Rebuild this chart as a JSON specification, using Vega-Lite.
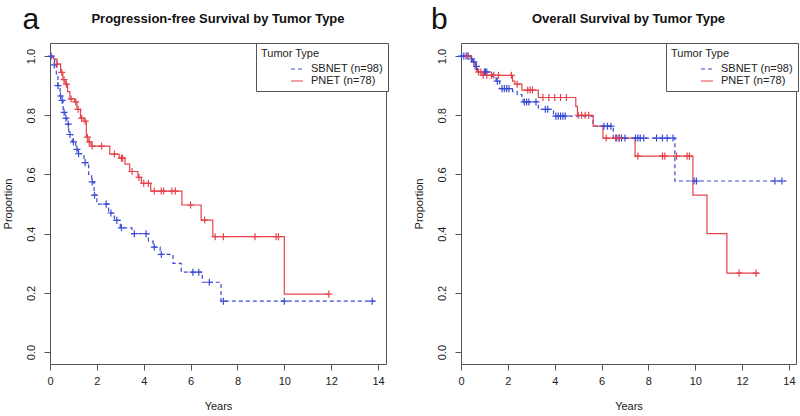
{
  "$schema": "https://vega.github.io/schema/vega-lite/v6.json",
  "padding": {"left": 1, "top": 4, "right": 4, "bottom": 3},
  "background": "white",
  "datasets": {
    "km": [
      {"panel": "a", "group": "SBNET (n=98)", "kind": "step", "t": 0, "s": 1.0},
      {"panel": "a", "group": "SBNET (n=98)", "kind": "step", "t": 0.1, "s": 0.99},
      {"panel": "a", "group": "SBNET (n=98)", "kind": "step", "t": 0.2, "s": 0.97},
      {"panel": "a", "group": "SBNET (n=98)", "kind": "step", "t": 0.27, "s": 0.94},
      {"panel": "a", "group": "SBNET (n=98)", "kind": "step", "t": 0.34, "s": 0.9},
      {"panel": "a", "group": "SBNET (n=98)", "kind": "step", "t": 0.43, "s": 0.865},
      {"panel": "a", "group": "SBNET (n=98)", "kind": "step", "t": 0.5, "s": 0.85},
      {"panel": "a", "group": "SBNET (n=98)", "kind": "step", "t": 0.56, "s": 0.81},
      {"panel": "a", "group": "SBNET (n=98)", "kind": "step", "t": 0.64, "s": 0.79},
      {"panel": "a", "group": "SBNET (n=98)", "kind": "step", "t": 0.72, "s": 0.77},
      {"panel": "a", "group": "SBNET (n=98)", "kind": "step", "t": 0.8, "s": 0.735},
      {"panel": "a", "group": "SBNET (n=98)", "kind": "step", "t": 0.95, "s": 0.71},
      {"panel": "a", "group": "SBNET (n=98)", "kind": "step", "t": 1.1, "s": 0.685},
      {"panel": "a", "group": "SBNET (n=98)", "kind": "step", "t": 1.2, "s": 0.67},
      {"panel": "a", "group": "SBNET (n=98)", "kind": "step", "t": 1.45, "s": 0.64},
      {"panel": "a", "group": "SBNET (n=98)", "kind": "step", "t": 1.65, "s": 0.6},
      {"panel": "a", "group": "SBNET (n=98)", "kind": "step", "t": 1.78, "s": 0.575},
      {"panel": "a", "group": "SBNET (n=98)", "kind": "step", "t": 1.88, "s": 0.53},
      {"panel": "a", "group": "SBNET (n=98)", "kind": "step", "t": 2.0, "s": 0.5},
      {"panel": "a", "group": "SBNET (n=98)", "kind": "step", "t": 2.5, "s": 0.47},
      {"panel": "a", "group": "SBNET (n=98)", "kind": "step", "t": 2.75, "s": 0.445},
      {"panel": "a", "group": "SBNET (n=98)", "kind": "step", "t": 3.0, "s": 0.42},
      {"panel": "a", "group": "SBNET (n=98)", "kind": "step", "t": 3.5, "s": 0.4},
      {"panel": "a", "group": "SBNET (n=98)", "kind": "step", "t": 4.2, "s": 0.375},
      {"panel": "a", "group": "SBNET (n=98)", "kind": "step", "t": 4.4, "s": 0.355},
      {"panel": "a", "group": "SBNET (n=98)", "kind": "step", "t": 4.7, "s": 0.33},
      {"panel": "a", "group": "SBNET (n=98)", "kind": "step", "t": 5.25, "s": 0.3},
      {"panel": "a", "group": "SBNET (n=98)", "kind": "step", "t": 5.6, "s": 0.27},
      {"panel": "a", "group": "SBNET (n=98)", "kind": "step", "t": 6.5, "s": 0.236},
      {"panel": "a", "group": "SBNET (n=98)", "kind": "step", "t": 7.3, "s": 0.172},
      {"panel": "a", "group": "SBNET (n=98)", "kind": "step", "t": 13.85, "s": 0.172},
      {"panel": "a", "group": "SBNET (n=98)", "kind": "censor", "t": 0.05, "s": 1.0},
      {"panel": "a", "group": "SBNET (n=98)", "kind": "censor", "t": 0.18, "s": 0.97},
      {"panel": "a", "group": "SBNET (n=98)", "kind": "censor", "t": 0.34, "s": 0.9},
      {"panel": "a", "group": "SBNET (n=98)", "kind": "censor", "t": 0.45, "s": 0.865},
      {"panel": "a", "group": "SBNET (n=98)", "kind": "censor", "t": 0.52, "s": 0.85},
      {"panel": "a", "group": "SBNET (n=98)", "kind": "censor", "t": 0.6, "s": 0.81},
      {"panel": "a", "group": "SBNET (n=98)", "kind": "censor", "t": 0.68, "s": 0.79},
      {"panel": "a", "group": "SBNET (n=98)", "kind": "censor", "t": 0.78, "s": 0.77},
      {"panel": "a", "group": "SBNET (n=98)", "kind": "censor", "t": 0.85, "s": 0.735},
      {"panel": "a", "group": "SBNET (n=98)", "kind": "censor", "t": 1.0, "s": 0.71},
      {"panel": "a", "group": "SBNET (n=98)", "kind": "censor", "t": 1.15, "s": 0.685},
      {"panel": "a", "group": "SBNET (n=98)", "kind": "censor", "t": 1.22, "s": 0.67},
      {"panel": "a", "group": "SBNET (n=98)", "kind": "censor", "t": 1.5, "s": 0.64},
      {"panel": "a", "group": "SBNET (n=98)", "kind": "censor", "t": 1.8, "s": 0.575},
      {"panel": "a", "group": "SBNET (n=98)", "kind": "censor", "t": 1.9, "s": 0.53},
      {"panel": "a", "group": "SBNET (n=98)", "kind": "censor", "t": 2.4, "s": 0.5},
      {"panel": "a", "group": "SBNET (n=98)", "kind": "censor", "t": 2.6, "s": 0.47},
      {"panel": "a", "group": "SBNET (n=98)", "kind": "censor", "t": 2.85, "s": 0.445},
      {"panel": "a", "group": "SBNET (n=98)", "kind": "censor", "t": 3.05, "s": 0.42},
      {"panel": "a", "group": "SBNET (n=98)", "kind": "censor", "t": 3.6, "s": 0.4},
      {"panel": "a", "group": "SBNET (n=98)", "kind": "censor", "t": 4.1, "s": 0.4},
      {"panel": "a", "group": "SBNET (n=98)", "kind": "censor", "t": 4.45, "s": 0.355},
      {"panel": "a", "group": "SBNET (n=98)", "kind": "censor", "t": 4.75, "s": 0.33},
      {"panel": "a", "group": "SBNET (n=98)", "kind": "censor", "t": 6.1, "s": 0.27},
      {"panel": "a", "group": "SBNET (n=98)", "kind": "censor", "t": 6.35, "s": 0.27},
      {"panel": "a", "group": "SBNET (n=98)", "kind": "censor", "t": 6.8, "s": 0.236},
      {"panel": "a", "group": "SBNET (n=98)", "kind": "censor", "t": 7.4, "s": 0.172},
      {"panel": "a", "group": "SBNET (n=98)", "kind": "censor", "t": 10.0, "s": 0.172},
      {"panel": "a", "group": "SBNET (n=98)", "kind": "censor", "t": 13.75, "s": 0.172},

      {"panel": "a", "group": "PNET (n=78)", "kind": "step", "t": 0, "s": 1.0},
      {"panel": "a", "group": "PNET (n=78)", "kind": "step", "t": 0.15, "s": 0.99},
      {"panel": "a", "group": "PNET (n=78)", "kind": "step", "t": 0.3, "s": 0.973},
      {"panel": "a", "group": "PNET (n=78)", "kind": "step", "t": 0.45, "s": 0.945},
      {"panel": "a", "group": "PNET (n=78)", "kind": "step", "t": 0.55, "s": 0.92},
      {"panel": "a", "group": "PNET (n=78)", "kind": "step", "t": 0.65, "s": 0.905},
      {"panel": "a", "group": "PNET (n=78)", "kind": "step", "t": 0.75, "s": 0.88},
      {"panel": "a", "group": "PNET (n=78)", "kind": "step", "t": 0.85, "s": 0.855},
      {"panel": "a", "group": "PNET (n=78)", "kind": "step", "t": 1.05, "s": 0.845},
      {"panel": "a", "group": "PNET (n=78)", "kind": "step", "t": 1.15, "s": 0.82},
      {"panel": "a", "group": "PNET (n=78)", "kind": "step", "t": 1.3, "s": 0.79},
      {"panel": "a", "group": "PNET (n=78)", "kind": "step", "t": 1.45, "s": 0.78},
      {"panel": "a", "group": "PNET (n=78)", "kind": "step", "t": 1.55, "s": 0.726},
      {"panel": "a", "group": "PNET (n=78)", "kind": "step", "t": 1.62, "s": 0.71},
      {"panel": "a", "group": "PNET (n=78)", "kind": "step", "t": 1.75, "s": 0.696},
      {"panel": "a", "group": "PNET (n=78)", "kind": "step", "t": 2.55, "s": 0.669},
      {"panel": "a", "group": "PNET (n=78)", "kind": "step", "t": 2.95, "s": 0.655},
      {"panel": "a", "group": "PNET (n=78)", "kind": "step", "t": 3.2, "s": 0.635},
      {"panel": "a", "group": "PNET (n=78)", "kind": "step", "t": 3.4, "s": 0.61},
      {"panel": "a", "group": "PNET (n=78)", "kind": "step", "t": 3.75, "s": 0.59},
      {"panel": "a", "group": "PNET (n=78)", "kind": "step", "t": 3.9, "s": 0.57},
      {"panel": "a", "group": "PNET (n=78)", "kind": "step", "t": 4.3, "s": 0.544},
      {"panel": "a", "group": "PNET (n=78)", "kind": "step", "t": 5.63, "s": 0.497},
      {"panel": "a", "group": "PNET (n=78)", "kind": "step", "t": 6.45, "s": 0.446},
      {"panel": "a", "group": "PNET (n=78)", "kind": "step", "t": 6.95, "s": 0.39},
      {"panel": "a", "group": "PNET (n=78)", "kind": "step", "t": 10.0, "s": 0.196},
      {"panel": "a", "group": "PNET (n=78)", "kind": "step", "t": 11.9, "s": 0.196},
      {"panel": "a", "group": "PNET (n=78)", "kind": "censor", "t": 0.3, "s": 0.973},
      {"panel": "a", "group": "PNET (n=78)", "kind": "censor", "t": 0.5, "s": 0.945},
      {"panel": "a", "group": "PNET (n=78)", "kind": "censor", "t": 0.6, "s": 0.92},
      {"panel": "a", "group": "PNET (n=78)", "kind": "censor", "t": 0.7, "s": 0.905},
      {"panel": "a", "group": "PNET (n=78)", "kind": "censor", "t": 0.9, "s": 0.855},
      {"panel": "a", "group": "PNET (n=78)", "kind": "censor", "t": 1.1, "s": 0.845},
      {"panel": "a", "group": "PNET (n=78)", "kind": "censor", "t": 1.2, "s": 0.82},
      {"panel": "a", "group": "PNET (n=78)", "kind": "censor", "t": 1.35, "s": 0.79},
      {"panel": "a", "group": "PNET (n=78)", "kind": "censor", "t": 1.5, "s": 0.78},
      {"panel": "a", "group": "PNET (n=78)", "kind": "censor", "t": 1.6, "s": 0.726},
      {"panel": "a", "group": "PNET (n=78)", "kind": "censor", "t": 1.68, "s": 0.71},
      {"panel": "a", "group": "PNET (n=78)", "kind": "censor", "t": 1.8, "s": 0.696},
      {"panel": "a", "group": "PNET (n=78)", "kind": "censor", "t": 2.2, "s": 0.696},
      {"panel": "a", "group": "PNET (n=78)", "kind": "censor", "t": 2.75, "s": 0.669},
      {"panel": "a", "group": "PNET (n=78)", "kind": "censor", "t": 3.05, "s": 0.655},
      {"panel": "a", "group": "PNET (n=78)", "kind": "censor", "t": 3.1, "s": 0.655},
      {"panel": "a", "group": "PNET (n=78)", "kind": "censor", "t": 3.5, "s": 0.61},
      {"panel": "a", "group": "PNET (n=78)", "kind": "censor", "t": 3.8, "s": 0.59},
      {"panel": "a", "group": "PNET (n=78)", "kind": "censor", "t": 4.0, "s": 0.57},
      {"panel": "a", "group": "PNET (n=78)", "kind": "censor", "t": 4.2, "s": 0.57},
      {"panel": "a", "group": "PNET (n=78)", "kind": "censor", "t": 4.45, "s": 0.544},
      {"panel": "a", "group": "PNET (n=78)", "kind": "censor", "t": 4.75, "s": 0.544},
      {"panel": "a", "group": "PNET (n=78)", "kind": "censor", "t": 4.85, "s": 0.544},
      {"panel": "a", "group": "PNET (n=78)", "kind": "censor", "t": 5.2, "s": 0.544},
      {"panel": "a", "group": "PNET (n=78)", "kind": "censor", "t": 5.35, "s": 0.544},
      {"panel": "a", "group": "PNET (n=78)", "kind": "censor", "t": 6.0, "s": 0.497},
      {"panel": "a", "group": "PNET (n=78)", "kind": "censor", "t": 6.6, "s": 0.446},
      {"panel": "a", "group": "PNET (n=78)", "kind": "censor", "t": 7.05, "s": 0.39},
      {"panel": "a", "group": "PNET (n=78)", "kind": "censor", "t": 7.4, "s": 0.39},
      {"panel": "a", "group": "PNET (n=78)", "kind": "censor", "t": 8.75, "s": 0.39},
      {"panel": "a", "group": "PNET (n=78)", "kind": "censor", "t": 9.65, "s": 0.39},
      {"panel": "a", "group": "PNET (n=78)", "kind": "censor", "t": 9.75, "s": 0.39},
      {"panel": "a", "group": "PNET (n=78)", "kind": "censor", "t": 11.9, "s": 0.196},

      {"panel": "b", "group": "SBNET (n=98)", "kind": "step", "t": 0, "s": 1.0},
      {"panel": "b", "group": "SBNET (n=98)", "kind": "step", "t": 0.4, "s": 0.99},
      {"panel": "b", "group": "SBNET (n=98)", "kind": "step", "t": 0.5, "s": 0.98},
      {"panel": "b", "group": "SBNET (n=98)", "kind": "step", "t": 0.62, "s": 0.965},
      {"panel": "b", "group": "SBNET (n=98)", "kind": "step", "t": 0.7, "s": 0.946},
      {"panel": "b", "group": "SBNET (n=98)", "kind": "step", "t": 1.35, "s": 0.93},
      {"panel": "b", "group": "SBNET (n=98)", "kind": "step", "t": 1.5, "s": 0.915},
      {"panel": "b", "group": "SBNET (n=98)", "kind": "step", "t": 1.65, "s": 0.89},
      {"panel": "b", "group": "SBNET (n=98)", "kind": "step", "t": 2.2, "s": 0.88},
      {"panel": "b", "group": "SBNET (n=98)", "kind": "step", "t": 2.4, "s": 0.87},
      {"panel": "b", "group": "SBNET (n=98)", "kind": "step", "t": 2.6, "s": 0.86},
      {"panel": "b", "group": "SBNET (n=98)", "kind": "step", "t": 2.65, "s": 0.845},
      {"panel": "b", "group": "SBNET (n=98)", "kind": "step", "t": 3.3, "s": 0.82},
      {"panel": "b", "group": "SBNET (n=98)", "kind": "step", "t": 3.95, "s": 0.797},
      {"panel": "b", "group": "SBNET (n=98)", "kind": "step", "t": 5.64, "s": 0.763},
      {"panel": "b", "group": "SBNET (n=98)", "kind": "step", "t": 6.5, "s": 0.723},
      {"panel": "b", "group": "SBNET (n=98)", "kind": "step", "t": 9.13, "s": 0.578},
      {"panel": "b", "group": "SBNET (n=98)", "kind": "step", "t": 13.9, "s": 0.578},
      {"panel": "b", "group": "SBNET (n=98)", "kind": "censor", "t": 0.02, "s": 1.0},
      {"panel": "b", "group": "SBNET (n=98)", "kind": "censor", "t": 0.12, "s": 1.0},
      {"panel": "b", "group": "SBNET (n=98)", "kind": "censor", "t": 0.22, "s": 1.0},
      {"panel": "b", "group": "SBNET (n=98)", "kind": "censor", "t": 0.3, "s": 1.0},
      {"panel": "b", "group": "SBNET (n=98)", "kind": "censor", "t": 0.45, "s": 0.99},
      {"panel": "b", "group": "SBNET (n=98)", "kind": "censor", "t": 0.55, "s": 0.98},
      {"panel": "b", "group": "SBNET (n=98)", "kind": "censor", "t": 0.66, "s": 0.965},
      {"panel": "b", "group": "SBNET (n=98)", "kind": "censor", "t": 1.0, "s": 0.946},
      {"panel": "b", "group": "SBNET (n=98)", "kind": "censor", "t": 1.05, "s": 0.946},
      {"panel": "b", "group": "SBNET (n=98)", "kind": "censor", "t": 1.1, "s": 0.946},
      {"panel": "b", "group": "SBNET (n=98)", "kind": "censor", "t": 1.55, "s": 0.915},
      {"panel": "b", "group": "SBNET (n=98)", "kind": "censor", "t": 1.75, "s": 0.89},
      {"panel": "b", "group": "SBNET (n=98)", "kind": "censor", "t": 1.85, "s": 0.89},
      {"panel": "b", "group": "SBNET (n=98)", "kind": "censor", "t": 1.95, "s": 0.89},
      {"panel": "b", "group": "SBNET (n=98)", "kind": "censor", "t": 2.05, "s": 0.89},
      {"panel": "b", "group": "SBNET (n=98)", "kind": "censor", "t": 2.7, "s": 0.845},
      {"panel": "b", "group": "SBNET (n=98)", "kind": "censor", "t": 2.8, "s": 0.845},
      {"panel": "b", "group": "SBNET (n=98)", "kind": "censor", "t": 2.9, "s": 0.845},
      {"panel": "b", "group": "SBNET (n=98)", "kind": "censor", "t": 3.2, "s": 0.845},
      {"panel": "b", "group": "SBNET (n=98)", "kind": "censor", "t": 3.6, "s": 0.82},
      {"panel": "b", "group": "SBNET (n=98)", "kind": "censor", "t": 3.7, "s": 0.82},
      {"panel": "b", "group": "SBNET (n=98)", "kind": "censor", "t": 4.05, "s": 0.797},
      {"panel": "b", "group": "SBNET (n=98)", "kind": "censor", "t": 4.15, "s": 0.797},
      {"panel": "b", "group": "SBNET (n=98)", "kind": "censor", "t": 4.25, "s": 0.797},
      {"panel": "b", "group": "SBNET (n=98)", "kind": "censor", "t": 4.35, "s": 0.797},
      {"panel": "b", "group": "SBNET (n=98)", "kind": "censor", "t": 4.45, "s": 0.797},
      {"panel": "b", "group": "SBNET (n=98)", "kind": "censor", "t": 6.1, "s": 0.763},
      {"panel": "b", "group": "SBNET (n=98)", "kind": "censor", "t": 6.25, "s": 0.763},
      {"panel": "b", "group": "SBNET (n=98)", "kind": "censor", "t": 6.4, "s": 0.763},
      {"panel": "b", "group": "SBNET (n=98)", "kind": "censor", "t": 6.65, "s": 0.723},
      {"panel": "b", "group": "SBNET (n=98)", "kind": "censor", "t": 6.75, "s": 0.723},
      {"panel": "b", "group": "SBNET (n=98)", "kind": "censor", "t": 6.85, "s": 0.723},
      {"panel": "b", "group": "SBNET (n=98)", "kind": "censor", "t": 7.0, "s": 0.723},
      {"panel": "b", "group": "SBNET (n=98)", "kind": "censor", "t": 7.45, "s": 0.723},
      {"panel": "b", "group": "SBNET (n=98)", "kind": "censor", "t": 7.55, "s": 0.723},
      {"panel": "b", "group": "SBNET (n=98)", "kind": "censor", "t": 7.65, "s": 0.723},
      {"panel": "b", "group": "SBNET (n=98)", "kind": "censor", "t": 7.8, "s": 0.723},
      {"panel": "b", "group": "SBNET (n=98)", "kind": "censor", "t": 8.35, "s": 0.723},
      {"panel": "b", "group": "SBNET (n=98)", "kind": "censor", "t": 8.6, "s": 0.723},
      {"panel": "b", "group": "SBNET (n=98)", "kind": "censor", "t": 8.8, "s": 0.723},
      {"panel": "b", "group": "SBNET (n=98)", "kind": "censor", "t": 9.05, "s": 0.723},
      {"panel": "b", "group": "SBNET (n=98)", "kind": "censor", "t": 9.95, "s": 0.578},
      {"panel": "b", "group": "SBNET (n=98)", "kind": "censor", "t": 10.05, "s": 0.578},
      {"panel": "b", "group": "SBNET (n=98)", "kind": "censor", "t": 13.4, "s": 0.578},
      {"panel": "b", "group": "SBNET (n=98)", "kind": "censor", "t": 13.7, "s": 0.578},

      {"panel": "b", "group": "PNET (n=78)", "kind": "step", "t": 0, "s": 1.0},
      {"panel": "b", "group": "PNET (n=78)", "kind": "step", "t": 0.45, "s": 0.99},
      {"panel": "b", "group": "PNET (n=78)", "kind": "step", "t": 0.52, "s": 0.98},
      {"panel": "b", "group": "PNET (n=78)", "kind": "step", "t": 0.6, "s": 0.956},
      {"panel": "b", "group": "PNET (n=78)", "kind": "step", "t": 0.68, "s": 0.946},
      {"panel": "b", "group": "PNET (n=78)", "kind": "step", "t": 0.9, "s": 0.935},
      {"panel": "b", "group": "PNET (n=78)", "kind": "step", "t": 2.2, "s": 0.915},
      {"panel": "b", "group": "PNET (n=78)", "kind": "step", "t": 2.3, "s": 0.905},
      {"panel": "b", "group": "PNET (n=78)", "kind": "step", "t": 2.6, "s": 0.885},
      {"panel": "b", "group": "PNET (n=78)", "kind": "step", "t": 3.3, "s": 0.86},
      {"panel": "b", "group": "PNET (n=78)", "kind": "step", "t": 4.9, "s": 0.83},
      {"panel": "b", "group": "PNET (n=78)", "kind": "step", "t": 4.97, "s": 0.8},
      {"panel": "b", "group": "PNET (n=78)", "kind": "step", "t": 5.64, "s": 0.763},
      {"panel": "b", "group": "PNET (n=78)", "kind": "step", "t": 6.06, "s": 0.723},
      {"panel": "b", "group": "PNET (n=78)", "kind": "step", "t": 7.43, "s": 0.662},
      {"panel": "b", "group": "PNET (n=78)", "kind": "step", "t": 9.9, "s": 0.53},
      {"panel": "b", "group": "PNET (n=78)", "kind": "step", "t": 10.5, "s": 0.4},
      {"panel": "b", "group": "PNET (n=78)", "kind": "step", "t": 11.35, "s": 0.267},
      {"panel": "b", "group": "PNET (n=78)", "kind": "step", "t": 12.7, "s": 0.267},
      {"panel": "b", "group": "PNET (n=78)", "kind": "censor", "t": 0.3, "s": 1.0},
      {"panel": "b", "group": "PNET (n=78)", "kind": "censor", "t": 0.75, "s": 0.946},
      {"panel": "b", "group": "PNET (n=78)", "kind": "censor", "t": 0.85, "s": 0.946},
      {"panel": "b", "group": "PNET (n=78)", "kind": "censor", "t": 0.95, "s": 0.935},
      {"panel": "b", "group": "PNET (n=78)", "kind": "censor", "t": 1.1, "s": 0.935},
      {"panel": "b", "group": "PNET (n=78)", "kind": "censor", "t": 1.3, "s": 0.935},
      {"panel": "b", "group": "PNET (n=78)", "kind": "censor", "t": 1.4, "s": 0.935},
      {"panel": "b", "group": "PNET (n=78)", "kind": "censor", "t": 1.6, "s": 0.935},
      {"panel": "b", "group": "PNET (n=78)", "kind": "censor", "t": 2.15, "s": 0.935},
      {"panel": "b", "group": "PNET (n=78)", "kind": "censor", "t": 2.4, "s": 0.905},
      {"panel": "b", "group": "PNET (n=78)", "kind": "censor", "t": 2.85, "s": 0.885},
      {"panel": "b", "group": "PNET (n=78)", "kind": "censor", "t": 2.95, "s": 0.885},
      {"panel": "b", "group": "PNET (n=78)", "kind": "censor", "t": 3.05, "s": 0.885},
      {"panel": "b", "group": "PNET (n=78)", "kind": "censor", "t": 3.5, "s": 0.86},
      {"panel": "b", "group": "PNET (n=78)", "kind": "censor", "t": 3.75, "s": 0.86},
      {"panel": "b", "group": "PNET (n=78)", "kind": "censor", "t": 4.0, "s": 0.86},
      {"panel": "b", "group": "PNET (n=78)", "kind": "censor", "t": 4.25, "s": 0.86},
      {"panel": "b", "group": "PNET (n=78)", "kind": "censor", "t": 4.5, "s": 0.86},
      {"panel": "b", "group": "PNET (n=78)", "kind": "censor", "t": 5.0, "s": 0.8},
      {"panel": "b", "group": "PNET (n=78)", "kind": "censor", "t": 5.15, "s": 0.8},
      {"panel": "b", "group": "PNET (n=78)", "kind": "censor", "t": 5.3, "s": 0.8},
      {"panel": "b", "group": "PNET (n=78)", "kind": "censor", "t": 5.45, "s": 0.8},
      {"panel": "b", "group": "PNET (n=78)", "kind": "censor", "t": 6.2, "s": 0.723},
      {"panel": "b", "group": "PNET (n=78)", "kind": "censor", "t": 6.6, "s": 0.723},
      {"panel": "b", "group": "PNET (n=78)", "kind": "censor", "t": 6.75, "s": 0.723},
      {"panel": "b", "group": "PNET (n=78)", "kind": "censor", "t": 7.55, "s": 0.662},
      {"panel": "b", "group": "PNET (n=78)", "kind": "censor", "t": 8.6, "s": 0.662},
      {"panel": "b", "group": "PNET (n=78)", "kind": "censor", "t": 8.7, "s": 0.662},
      {"panel": "b", "group": "PNET (n=78)", "kind": "censor", "t": 9.2, "s": 0.662},
      {"panel": "b", "group": "PNET (n=78)", "kind": "censor", "t": 9.65, "s": 0.662},
      {"panel": "b", "group": "PNET (n=78)", "kind": "censor", "t": 9.75, "s": 0.662},
      {"panel": "b", "group": "PNET (n=78)", "kind": "censor", "t": 11.87, "s": 0.267},
      {"panel": "b", "group": "PNET (n=78)", "kind": "censor", "t": 12.6, "s": 0.267}
    ]
  },
  "hconcat": [
    {
      "width": 336,
      "height": 321,
      "layer": [
        {
          "data": {"name": "km"},
          "transform": [{"filter": "datum.panel === 'a' && datum.kind === 'step'"}],
          "mark": {"type": "line", "interpolate": "step-after", "strokeWidth": 1.2},
          "encoding": {
            "x": {"field": "t", "type": "quantitative", "scale": {"domain": [0, 14.34], "nice": false, "zero": false}, "axis": {"title": "Years", "values": [0, 2, 4, 6, 8, 10, 12, 14]}},
            "y": {"field": "s", "type": "quantitative", "scale": {"domain": [-0.04, 1.044], "nice": false, "zero": false}, "axis": {"title": "Proportion", "values": [0, 0.2, 0.4, 0.6, 0.8, 1.0], "format": ".1f", "labelAngle": -90}},
            "color": {"field": "group", "type": "nominal", "scale": {"domain": ["SBNET (n=98)", "PNET (n=78)"], "range": ["#3a4bd6", "#e5434b"]}, "legend": {"title": "Tumor Type", "orient": "none", "legendX": 206, "legendY": 0}},
            "strokeDash": {"field": "group", "type": "nominal", "scale": {"domain": ["SBNET (n=98)", "PNET (n=78)"], "range": [[4, 3], [1, 0]]}, "legend": {"title": "Tumor Type", "orient": "none", "legendX": 206, "legendY": 0}}
          }
        },
        {
          "data": {"name": "km"},
          "transform": [{"filter": "datum.panel === 'a' && datum.kind === 'censor'"}],
          "mark": {"type": "point", "shape": "M-1,0L1,0M0,-1L0,1", "filled": false, "size": 50, "strokeWidth": 1.2, "opacity": 1},
          "encoding": {
            "x": {"field": "t", "type": "quantitative"},
            "y": {"field": "s", "type": "quantitative"},
            "color": {"field": "group", "type": "nominal", "legend": null}
          }
        },
        {
          "data": {"values": [{"label": "a"}]},
          "mark": {"type": "text", "fontSize": 30, "baseline": "alphabetic", "align": "center", "color": "#111"},
          "encoding": {
            "x": {"datum": -0.82},
            "y": {"datum": 1.091},
            "text": {"field": "label"}
          }
        },
        {
          "data": {"values": [{"label": "Progression-free Survival by Tumor Type"}]},
          "mark": {"type": "text", "fontSize": 13, "fontWeight": "bold", "baseline": "alphabetic", "align": "center", "color": "#111"},
          "encoding": {
            "x": {"datum": 7.17},
            "y": {"datum": 1.11},
            "text": {"field": "label"}
          }
        }
      ]
    },
    {
      "width": 335,
      "height": 321,
      "layer": [
        {
          "data": {"name": "km"},
          "transform": [{"filter": "datum.panel === 'b' && datum.kind === 'step'"}],
          "mark": {"type": "line", "interpolate": "step-after", "strokeWidth": 1.2},
          "encoding": {
            "x": {"field": "t", "type": "quantitative", "scale": {"domain": [0, 14.3], "nice": false, "zero": false}, "axis": {"title": "Years", "values": [0, 2, 4, 6, 8, 10, 12, 14]}},
            "y": {"field": "s", "type": "quantitative", "scale": {"domain": [-0.04, 1.044], "nice": false, "zero": false}, "axis": {"title": "Proportion", "values": [0, 0.2, 0.4, 0.6, 0.8, 1.0], "format": ".1f", "labelAngle": -90}},
            "color": {"field": "group", "type": "nominal", "scale": {"domain": ["SBNET (n=98)", "PNET (n=78)"], "range": ["#3a4bd6", "#e5434b"]}, "legend": {"title": "Tumor Type", "orient": "none", "legendX": 205, "legendY": 0}},
            "strokeDash": {"field": "group", "type": "nominal", "scale": {"domain": ["SBNET (n=98)", "PNET (n=78)"], "range": [[4, 3], [1, 0]]}, "legend": {"title": "Tumor Type", "orient": "none", "legendX": 205, "legendY": 0}}
          }
        },
        {
          "data": {"name": "km"},
          "transform": [{"filter": "datum.panel === 'b' && datum.kind === 'censor'"}],
          "mark": {"type": "point", "shape": "M-1,0L1,0M0,-1L0,1", "filled": false, "size": 50, "strokeWidth": 1.2, "opacity": 1},
          "encoding": {
            "x": {"field": "t", "type": "quantitative"},
            "y": {"field": "s", "type": "quantitative"},
            "color": {"field": "group", "type": "nominal", "legend": null}
          }
        },
        {
          "data": {"values": [{"label": "b"}]},
          "mark": {"type": "text", "fontSize": 30, "baseline": "alphabetic", "align": "center", "color": "#111"},
          "encoding": {
            "x": {"datum": -0.92},
            "y": {"datum": 1.091},
            "text": {"field": "label"}
          }
        },
        {
          "data": {"values": [{"label": "Overall Survival by Tumor Type"}]},
          "mark": {"type": "text", "fontSize": 13, "fontWeight": "bold", "baseline": "alphabetic", "align": "center", "color": "#111"},
          "encoding": {
            "x": {"datum": 7.15},
            "y": {"datum": 1.11},
            "text": {"field": "label"}
          }
        }
      ]
    }
  ],
  "spacing": 75,
  "bounds": "flush",
  "resolve": {
    "scale": {"color": "independent", "strokeDash": "independent", "x": "independent", "y": "independent"},
    "legend": {"color": "independent", "strokeDash": "independent"}
  },
  "config": {
    "font": "Liberation Sans",
    "view": {"stroke": "#555", "strokeWidth": 1},
    "axis": {
      "domain": false, "grid": false, "tickColor": "#555", "tickSize": 6, "tickWidth": 1,
      "labelFontSize": 11, "titleFontSize": 11, "titleFontWeight": "normal",
      "labelColor": "#222", "titleColor": "#222", "labelFlush": false, "labelPadding": 6
    },
    "axisX": {"titlePadding": 14, "labelPadding": 5},
    "axisY": {"titlePadding": 12, "labelPadding": 8},
    "legend": {
      "strokeColor": "#555", "padding": 5,
      "titleFontSize": 11, "titleFontWeight": "normal", "titleColor": "#222", "titlePadding": 3,
      "labelFontSize": 11, "labelColor": "#222", "labelOffset": 7, "symbolType": "stroke", "symbolStrokeWidth": 1.2,
      "symbolSize": 144, "rowPadding": 0, "symbolOffset": 29, "fillColor": "white"
    }
  }
}
